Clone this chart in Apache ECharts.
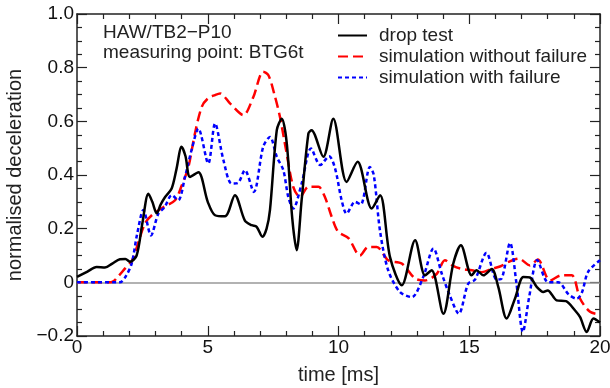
<!DOCTYPE html>
<html>
<head>
<meta charset="utf-8">
<script src="https://cdn.jsdelivr.net/npm/echarts@6/dist/echarts.min.js"></script>
<style>
    html, body { margin: 0; padding: 0; background: #fff; }
    #chart { width: 610px; height: 388px; }
</style>
</head>
<body>
<div id="chart"></div>
<script>
// [time ms, normalised deceleration]
var dropTest = [
    [0, 0.02], [0.4, 0.04], [0.75, 0.057], [1.07, 0.055], [1.35, 0.07], [1.64, 0.086], [1.85, 0.087],
    [2.03, 0.077], [2.28, 0.1], [2.5, 0.22], [2.73, 0.33], [2.88, 0.3], [3.05, 0.257], [3.2, 0.29],
    [3.37, 0.318], [3.62, 0.35], [3.8, 0.42], [4.0, 0.505], [4.15, 0.47], [4.32, 0.393], [4.64, 0.41],
    [5.0, 0.3], [5.28, 0.25], [5.66, 0.246], [6.04, 0.325], [6.42, 0.23], [6.68, 0.213], [6.87, 0.207],
    [7.09, 0.17], [7.25, 0.2], [7.38, 0.27], [7.64, 0.567], [7.83, 0.61], [8.02, 0.52], [8.23, 0.24],
    [8.4, 0.12], [8.59, 0.306], [8.85, 0.555], [8.97, 0.567], [9.42, 0.468], [9.8, 0.61], [10.31, 0.374],
    [10.73, 0.449], [11.27, 0.275], [11.59, 0.325], [11.97, 0.094], [12.42, -0.011], [12.93, 0.157],
    [13.31, 0.026], [13.56, 0.045], [14.01, -0.117], [14.39, 0.07], [14.68, 0.138], [15.09, 0.026],
    [15.28, 0.045], [15.54, 0.026], [15.86, 0.05], [16.11, -0.017], [16.43, -0.135], [16.75, -0.06],
    [17.07, 0.02], [17.32, 0.018], [17.58, -0.017], [17.83, -0.036], [18.0, -0.03], [18.34, -0.067],
    [18.7, -0.07], [19.04, -0.104], [19.24, -0.13], [19.49, -0.185], [19.75, -0.135], [20, -0.15]
];
var simNoFailure = [
    [0, 0], [1.3, 0], [1.6, 0.025], [1.84, 0.052], [2.1, 0.08], [2.35, 0.15], [2.6, 0.22], [2.86, 0.25],
    [3.3, 0.28], [3.75, 0.306], [4.0, 0.36], [4.26, 0.43], [4.5, 0.55], [4.77, 0.654], [5.0, 0.685],
    [5.28, 0.698], [5.47, 0.704], [5.85, 0.667], [6.36, 0.623], [6.74, 0.69], [7.12, 0.785], [7.32, 0.772],
    [7.55, 0.7], [7.76, 0.617], [8.0, 0.49], [8.27, 0.356], [8.53, 0.318], [8.85, 0.356], [9.23, 0.356],
    [9.48, 0.318], [9.74, 0.244], [9.99, 0.188], [10.38, 0.165], [10.82, 0.1], [11.14, 0.132],
    [11.46, 0.132], [11.9, 0.082], [12.42, 0.07], [12.93, 0.014], [13.31, 0.007], [13.76, 0.032],
    [14.07, 0.082], [14.4, 0.06], [14.71, 0.05], [15.1, 0.045], [15.48, 0.038], [15.86, 0.05],
    [16.2, 0.06], [16.5, 0.076], [16.9, 0.088], [17.32, 0.063], [17.62, 0.085], [18.09, 0.007],
    [18.53, 0.026], [18.92, 0.026], [19.24, -0.061], [19.62, -0.11], [20, -0.12]
];
var simWithFailure = [
    [0, 0], [1.64, 0], [1.85, 0.02], [2.09, 0.07], [2.3, 0.18], [2.54, 0.27], [2.83, 0.175], [3.11, 0.256],
    [3.35, 0.28], [3.62, 0.325], [3.87, 0.306], [4.13, 0.393], [4.4, 0.5], [4.64, 0.573], [5.02, 0.443],
    [5.28, 0.592], [5.6, 0.455], [5.91, 0.368], [6.15, 0.37], [6.42, 0.418], [6.76, 0.337], [7.12, 0.505],
    [7.38, 0.542], [7.64, 0.468], [7.89, 0.418], [8.08, 0.318], [8.27, 0.275], [8.59, 0.368], [8.95, 0.499],
    [9.3, 0.437], [9.64, 0.47], [9.87, 0.424], [10.12, 0.306], [10.31, 0.256], [10.63, 0.3], [10.85, 0.29],
    [11.2, 0.43], [11.35, 0.4], [11.59, 0.19], [11.9, 0.045], [12.35, -0.036], [12.8, -0.055],
    [13.24, 0.02], [13.63, 0.126], [13.95, 0.032], [14.26, -0.05], [14.6, -0.117], [14.96, -0.005],
    [15.22, 0.01], [15.66, 0.11], [16.05, 0.01], [16.24, 0.014], [16.56, 0.147], [16.8, 0.0],
    [17.05, -0.185], [17.3, -0.05], [17.6, 0.083], [18.02, 0.0], [18.4, 0.0], [18.8, -0.045],
    [19.11, -0.061], [19.3, -0.04], [19.55, 0.04], [20, 0.082]
];
var seriesNames = ['drop test', 'simulation without failure', 'simulation with failure'];
var noteLines = ['HAW/TB2\u2212P10', 'measuring point: BTG6t'];

var font = 'Liberation Sans, Arial, sans-serif';
var myChart = echarts.init(document.getElementById('chart'));

function frameAxis(pos, isX) {
    return {
        type: 'value',
        position: pos,
        min: isX ? 0 : -0.2,
        max: isX ? 20 : 1.0,
        interval: isX ? 5 : 0.2,
        axisLine: { show: true, onZero: false, lineStyle: { color: '#222', width: 1.5 } },
        axisTick: { show: true, inside: true, length: 10, lineStyle: { color: '#222', width: 1.2 } },
        minorTick: { show: true, splitNumber: isX ? 5 : 4, length: 5, lineStyle: { color: '#222', width: 1.2 } },
        axisLabel: { show: false },
        splitLine: { show: false }
    };
}

var xMain = frameAxis('bottom', true);
xMain.name = 'time [ms]';
xMain.nameLocation = 'middle';
xMain.nameGap = 29;
xMain.nameTextStyle = { fontSize: 20, color: '#222', fontFamily: font };
xMain.axisLabel = { show: true, fontSize: 19, color: '#111', fontFamily: font, margin: 2 };

var yMain = frameAxis('left', false);
yMain.name = 'normalised deceleration';
yMain.nameLocation = 'middle';
yMain.nameGap = 40;
yMain.nameTextStyle = { fontSize: 20, color: '#222', fontFamily: font };
yMain.axisLabel = {
    show: true, fontSize: 19, color: '#111', fontFamily: font, margin: 3,
    formatter: function (v) {
        if (Math.abs(v) < 1e-9) return '0';
        var s = Math.abs(v).toFixed(1);
        return v < 0 ? '\u2212' + s : s;
    }
};

var option = {
    animation: false,
    backgroundColor: '#fff',
    grid: { left: 77, right: 10, top: 14, bottom: 52, containLabel: false, outerBoundsMode: 'none' },
    xAxis: [xMain, frameAxis('top', true)],
    yAxis: [yMain, frameAxis('right', false)],
    legend: {
        data: seriesNames,
        orient: 'vertical',
        left: 337,
        top: 26,
        padding: 0,
        itemWidth: 29,
        itemHeight: 14,
        itemGap: 2,
        itemStyle: { opacity: 0 },
        textStyle: { fontSize: 19, color: '#222', fontFamily: font, padding: [0, 0, 0, 7] }
    },
    graphic: [
        { type: 'text', left: 103, top: 23, style: { text: noteLines[0], fontSize: 19, fill: '#222', fontFamily: font } },
        { type: 'text', left: 103, top: 43, style: { text: noteLines[1], fontSize: 19, fill: '#222', fontFamily: font } }
    ],
    series: [
        {
            name: seriesNames[0],
            type: 'line',
            data: dropTest,
            smooth: 0.3,
            symbol: 'none',
            z: 5,
            lineStyle: { color: '#000', width: 2.5 },
            itemStyle: { color: '#000' }
        },
        {
            name: seriesNames[1],
            type: 'line',
            data: simNoFailure,
            smooth: 0.3,
            symbol: 'none',
            z: 3,
            lineStyle: { color: '#ff0000', width: 2.5, type: [10, 5] },
            itemStyle: { color: '#ff0000' },
            markLine: {
                silent: true,
                symbol: 'none',
                label: { show: false },
                lineStyle: { color: '#999', width: 1.5, type: 'solid' },
                data: [{ yAxis: 0 }],
                z: 1
            }
        },
        {
            name: seriesNames[2],
            type: 'line',
            data: simWithFailure,
            smooth: 0.3,
            symbol: 'none',
            z: 4,
            lineStyle: { color: '#0000ff', width: 2.5, type: [4, 3] },
            itemStyle: { color: '#0000ff' }
        }
    ]
};

myChart.setOption(option);
</script>
</body>
</html>
